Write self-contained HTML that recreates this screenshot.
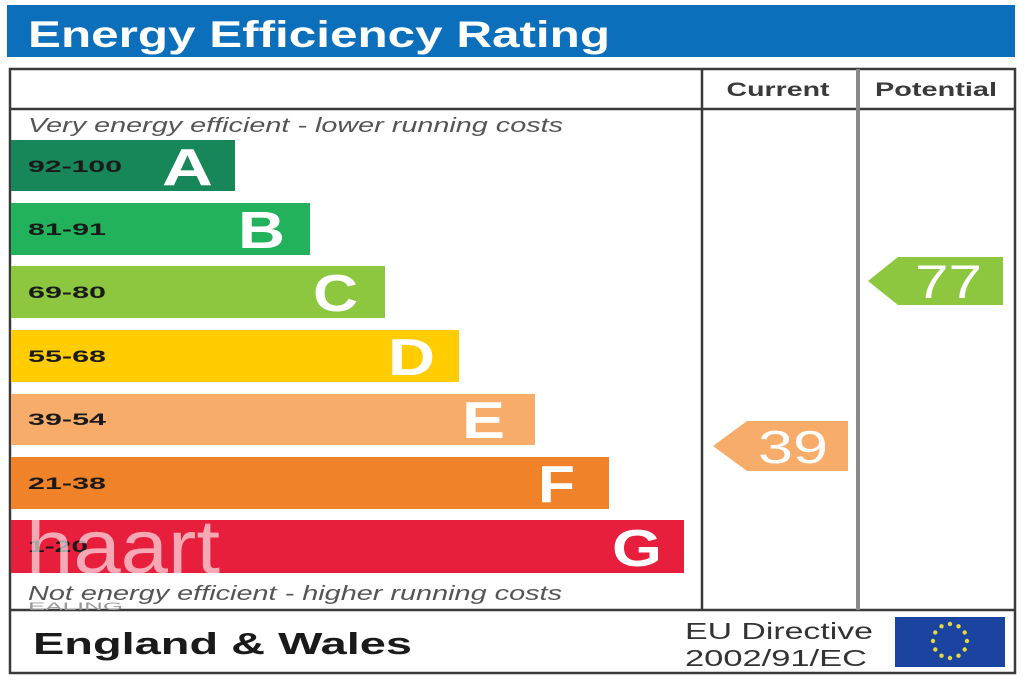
<!DOCTYPE html>
<html>
<head>
<meta charset="utf-8">
<style>
html,body{margin:0;padding:0;background:#fff;}
svg{display:block;}
text{font-family:"Liberation Sans",Arial,sans-serif;}
</style>
</head>
<body>
<svg width="1024" height="683" viewBox="0 0 1024 683" xmlns="http://www.w3.org/2000/svg">
  <rect width="1024" height="683" fill="#ffffff"/>
  <!-- title bar -->
  <rect x="7" y="5" width="1008" height="52" fill="#0b6fbc"/>
  <text x="28" y="47" font-size="37" font-weight="bold" fill="#ffffff" textLength="582" lengthAdjust="spacingAndGlyphs">Energy Efficiency Rating</text>

  <!-- frame -->
  <rect x="10" y="69" width="1005" height="604" fill="none" stroke="#3a3a3a" stroke-width="2.5"/>
  <line x1="10" y1="109" x2="1015" y2="109" stroke="#3a3a3a" stroke-width="2.5"/>
  <line x1="10" y1="610" x2="1015" y2="610" stroke="#3a3a3a" stroke-width="2.5"/>
  <line x1="702" y1="69" x2="702" y2="610" stroke="#3a3a3a" stroke-width="2.5"/>
  <line x1="858" y1="69" x2="858" y2="610" stroke="#8a8a8a" stroke-width="4"/>

  <text x="778" y="96" font-size="19" font-weight="bold" fill="#3a3a3a" text-anchor="middle" textLength="103" lengthAdjust="spacingAndGlyphs">Current</text>
  <text x="936" y="96" font-size="19" font-weight="bold" fill="#3a3a3a" text-anchor="middle" textLength="122" lengthAdjust="spacingAndGlyphs">Potential</text>

  <text x="28" y="132" font-size="20" font-style="italic" fill="#555" textLength="535" lengthAdjust="spacingAndGlyphs">Very energy efficient - lower running costs</text>

  <!-- bands -->
  <rect x="11" y="140" width="224" height="51" fill="#17875a"/>
  <rect x="11" y="203" width="299" height="52" fill="#22b25b"/>
  <rect x="11" y="266" width="374" height="52" fill="#8dc63f"/>
  <rect x="11" y="330" width="448" height="52" fill="#ffcc00"/>
  <rect x="11" y="394" width="524" height="51" fill="#f7ac6a"/>
  <rect x="11" y="457" width="598" height="52" fill="#f0832a"/>
  <rect x="11" y="520" width="673" height="53" fill="#e81e3d"/>

  <g font-size="17" font-weight="bold" fill="#1a1a1a">
    <text x="28" y="172" textLength="94" lengthAdjust="spacingAndGlyphs">92-100</text>
    <text x="28" y="235" textLength="78" lengthAdjust="spacingAndGlyphs">81-91</text>
    <text x="28" y="298" textLength="78" lengthAdjust="spacingAndGlyphs">69-80</text>
    <text x="28" y="362" textLength="78" lengthAdjust="spacingAndGlyphs">55-68</text>
    <text x="28" y="425" textLength="78" lengthAdjust="spacingAndGlyphs">39-54</text>
    <text x="28" y="489" textLength="78" lengthAdjust="spacingAndGlyphs">21-38</text>
    <text x="28" y="552" textLength="60" lengthAdjust="spacingAndGlyphs">1-20</text>
  </g>
  <g font-size="52" font-weight="bold" fill="#ffffff">
    <text x="162" y="185" textLength="51" lengthAdjust="spacingAndGlyphs">A</text>
    <text x="238" y="248" textLength="47" lengthAdjust="spacingAndGlyphs">B</text>
    <text x="313" y="311" textLength="45" lengthAdjust="spacingAndGlyphs">C</text>
    <text x="388" y="375" textLength="47" lengthAdjust="spacingAndGlyphs">D</text>
    <text x="462" y="438" textLength="43" lengthAdjust="spacingAndGlyphs">E</text>
    <text x="538" y="502" textLength="37" lengthAdjust="spacingAndGlyphs">F</text>
    <text x="612" y="566" textLength="50" lengthAdjust="spacingAndGlyphs">G</text>
  </g>

  <!-- haart watermark -->
  <text x="26" y="573" font-size="76" fill="#ffffff" fill-opacity="0.62" textLength="194" lengthAdjust="spacingAndGlyphs">haart</text>
  <text x="28" y="610" font-size="11" fill="#999" textLength="95" lengthAdjust="spacingAndGlyphs">EALING</text>

  <text x="28" y="600" font-size="20" font-style="italic" fill="#555" textLength="534" lengthAdjust="spacingAndGlyphs">Not energy efficient - higher running costs</text>

  <!-- current arrow 39 -->
  <polygon points="713,446 747,421 848,421 848,471 747,471" fill="#f7ac6a"/>
  <text x="758" y="463" font-size="46" fill="#ffffff" textLength="70" lengthAdjust="spacingAndGlyphs">39</text>

  <!-- potential arrow 77 -->
  <polygon points="868,281 898,257 1003,257 1003,305 898,305" fill="#8dc63f"/>
  <text x="915" y="298" font-size="47" fill="#ffffff" textLength="67" lengthAdjust="spacingAndGlyphs">77</text>

  <!-- footer -->
  <text x="33" y="654" font-size="31" font-weight="bold" fill="#1a1a1a" textLength="379" lengthAdjust="spacingAndGlyphs">England &amp; Wales</text>
  <text x="685" y="639" font-size="23" fill="#333" textLength="188" lengthAdjust="spacingAndGlyphs">EU Directive</text>
  <text x="685" y="666" font-size="23" fill="#333" textLength="182" lengthAdjust="spacingAndGlyphs">2002/91/EC</text>

  <!-- EU flag -->
  <rect x="895" y="617" width="110" height="50" fill="#1a44a0"/>
  <g fill="#e8d838">
    <circle cx="950" cy="624" r="2.2"/>
    <circle cx="958.5" cy="626.3" r="2.2"/>
    <circle cx="964.7" cy="632.5" r="2.2"/>
    <circle cx="967" cy="641" r="2.2"/>
    <circle cx="964.7" cy="649.5" r="2.2"/>
    <circle cx="958.5" cy="655.7" r="2.2"/>
    <circle cx="950" cy="658" r="2.2"/>
    <circle cx="941.5" cy="655.7" r="2.2"/>
    <circle cx="935.3" cy="649.5" r="2.2"/>
    <circle cx="933" cy="641" r="2.2"/>
    <circle cx="935.3" cy="632.5" r="2.2"/>
    <circle cx="941.5" cy="626.3" r="2.2"/>
  </g>
</svg>
</body>
</html>
